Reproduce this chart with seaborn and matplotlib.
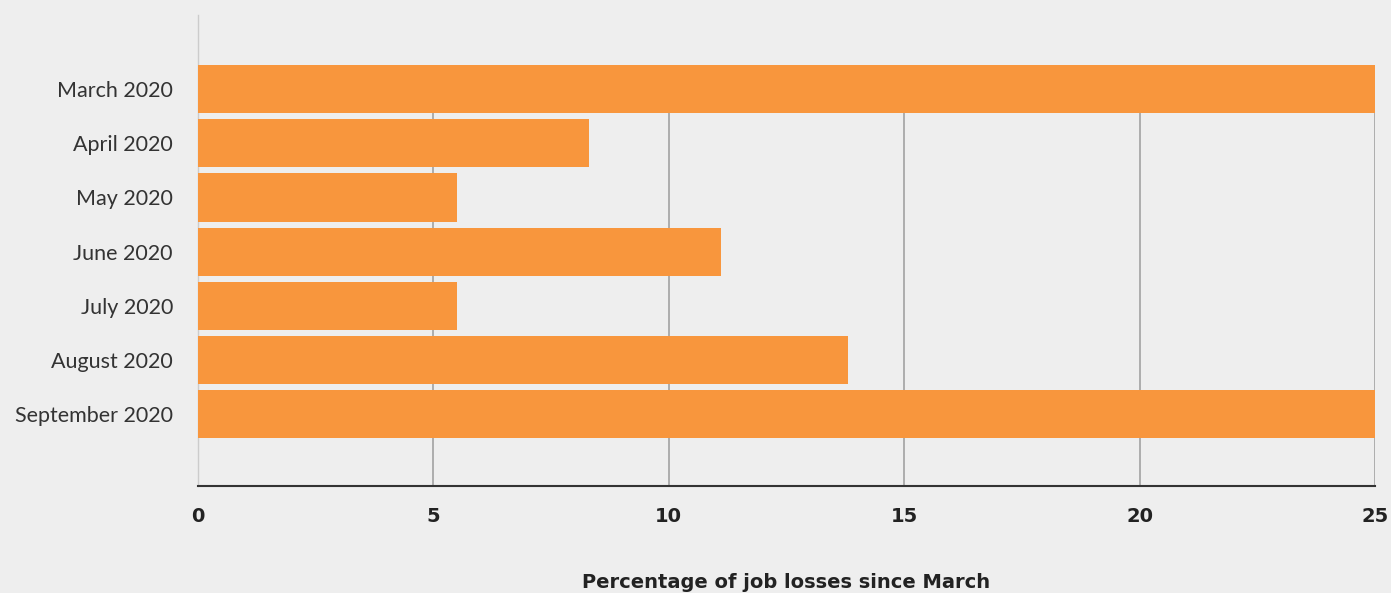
import pandas as pd
import numpy as np
import matplotlib.pyplot as plt
import seaborn as sns

# monthly job losses
months = ["March 2020", "April 2020", "May 2020", "June 2020",
          "July 2020", "August 2020", "September 2020"]
job_losses = [25.0, 8.3, 5.5, 11.1, 5.5, 13.8, 25.0]
x_ticks = [0, 5, 10, 15, 20, 25]

df = pd.DataFrame({"Month": months, "Losses": job_losses})

bg = "#eeeeee"
bar_w = 0.89
sns.set_style("white")
plt.rcParams["font.family"] = ["Lato", "DejaVu Sans"]

fig = plt.figure(figsize=(13.91, 5.93), dpi=100, facecolor=bg)
ax = fig.add_axes([0.1423, 0.1804, 0.8462, 0.7943], facecolor=bg)

sns.barplot(df, y="Month", x="Losses", orient="h", color="#f8963d",
            width=bar_w, saturation=1, linewidth=0, ax=ax)

ax.set_xlim(0, 25)
ax.set_ylim(7.33, -1.37)
ax.set_xticks(x_ticks)

# gridlines only start below the first bar
ax.vlines(x_ticks, bar_w / 2, 7.33, color="#a8a8a8", linewidth=1.3, zorder=0)

for side in ["top", "right"]:
    ax.spines[side].set_visible(False)
ax.spines["left"].set_color("#cccccc")
ax.spines["left"].set_linewidth(1)
ax.spines["left"].set_zorder(0)
ax.spines["bottom"].set_color("#333333")
ax.spines["bottom"].set_linewidth(1.5)

ax.tick_params(axis="both", length=0)
ax.tick_params(axis="y", labelsize=15.5, labelcolor="#333333", pad=18)
ax.tick_params(axis="x", labelcolor="#222222", pad=15)
for lbl in ax.get_xticklabels():
    lbl.set_fontweight("bold")
    lbl.set_fontfamily("DejaVu Sans")
    lbl.set_fontsize(14)

ax.set_ylabel("")
ax.set_xlabel("Percentage of job losses since March", fontsize=14,
              fontweight="bold", family="DejaVu Sans", color="#222222",
              labelpad=34)

plt.savefig("out.png", facecolor=bg)
